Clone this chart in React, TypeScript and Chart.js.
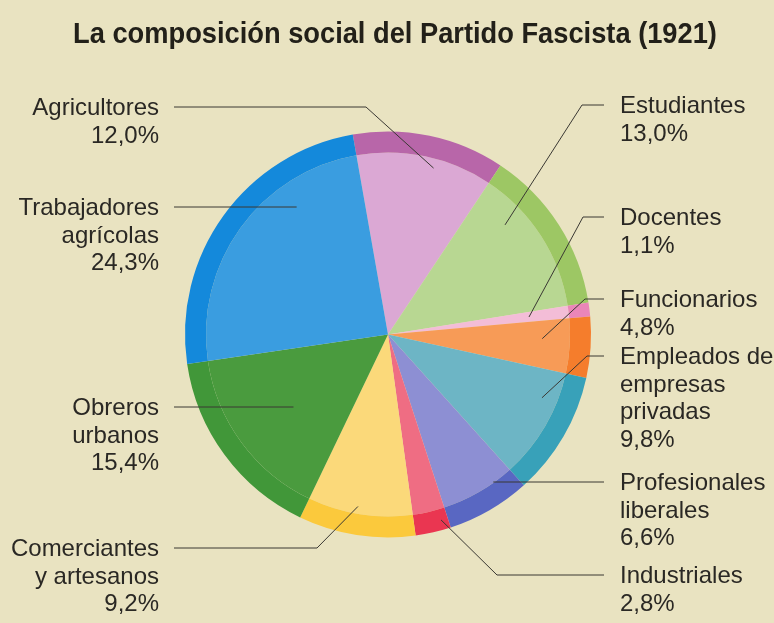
import React, { useEffect, useRef } from "react";
import { Chart, registerables } from "chart.js";

Chart.register(...registerables);

const title = "La composición social del Partido Fascista (1921)";

const categories = [
  "Agricultores",
  "Estudiantes",
  "Docentes",
  "Funcionarios",
  "Empleados de empresas privadas",
  "Profesionales liberales",
  "Industriales",
  "Comerciantes y artesanos",
  "Obreros urbanos",
  "Trabajadores agrícolas",
];

const shares = [12.0, 13.0, 1.1, 4.8, 9.8, 6.6, 2.8, 9.2, 15.4, 24.3];

const labelText = [
  ["Agricultores"],
  ["Estudiantes"],
  ["Docentes"],
  ["Funcionarios"],
  ["Empleados de", "empresas", "privadas"],
  ["Profesionales", "liberales"],
  ["Industriales"],
  ["Comerciantes", "y artesanos"],
  ["Obreros", "urbanos"],
  ["Trabajadores", "agrícolas"],
];

const rimColors = [
  "#b866a9",
  "#9dc764",
  "#ea86b8",
  "#f57d2c",
  "#38a1b9",
  "#5967c2",
  "#ea3651",
  "#fbc93c",
  "#419739",
  "#1489db",
];

const faceColors = [
  "#dba8d4",
  "#b8d792",
  "#f3bdd7",
  "#f79b57",
  "#6db5c5",
  "#8d8fd3",
  "#ef6d83",
  "#fbd97a",
  "#4a9b3e",
  "#3a9de0",
];

// layout of the annotations (side, leader y, elbow x, position within slice, radial fraction)
const labelLayout = [
  { side: "L", y: 107, elbowX: 366, t: 0.58, f: 0.85 },
  { side: "R", y: 105, elbowX: 582, t: 0.28, f: 0.79 },
  { side: "R", y: 217, elbowX: 583, t: 0.5, f: 0.7 },
  { side: "R", y: 299, elbowX: 585, t: 0.38, f: 0.76 },
  { side: "R", y: 356, elbowX: 587, t: 0.28, f: 0.82 },
  { side: "R", y: 482, elbowX: null, t: 0.27, f: 0 },
  { side: "R", y: 575, elbowX: 497, t: 0.2, f: 0.95 },
  { side: "L", y: 548, elbowX: 317, t: 0.53, f: 0.86 },
  { side: "L", y: 407, elbowX: null, t: 0.48, f: 0 },
  { side: "L", y: 207, elbowX: null, t: 0.71, f: 0 },
];

const fmtPct = (v: number) => v.toFixed(1).replace(".", ",") + "%";

const annotationPlugin = {
  id: "annotations",
  afterDraw(chart: any) {
    const ctx = chart.ctx as CanvasRenderingContext2D;
    const meta = chart.getDatasetMeta(0);
    ctx.save();

    // title
    ctx.fillStyle = "#222019";
    ctx.font = "bold 29px 'Liberation Sans', Arial, sans-serif";
    ctx.textAlign = "center";
    ctx.textBaseline = "alphabetic";
    ctx.save();
    ctx.translate(395, 43);
    ctx.scale(0.94, 1);
    ctx.fillText(title, 0, 0);
    ctx.restore();

    ctx.font = "24px 'Liberation Sans', Arial, sans-serif";
    ctx.strokeStyle = "#3a3833";
    ctx.lineWidth = 1;

    meta.data.forEach((arc: any, i: number) => {
      const lay = labelLayout[i];
      const p = arc.getProps(["x", "y", "startAngle", "endAngle", "outerRadius"], true);
      const a = p.startAngle + lay.t * (p.endAngle - p.startAngle);
      let ax: number, ay: number;
      if (lay.elbowX === null) {
        const r = (lay.y - p.y) / Math.sin(a);
        ax = p.x + r * Math.cos(a);
        ay = lay.y;
      } else {
        ax = p.x + lay.f * p.outerRadius * Math.cos(a);
        ay = p.y + lay.f * p.outerRadius * Math.sin(a);
      }
      const startX = lay.side === "L" ? 174 : 604;
      ctx.beginPath();
      ctx.moveTo(startX, lay.y);
      if (lay.elbowX !== null) ctx.lineTo(lay.elbowX, lay.y);
      ctx.lineTo(ax, ay);
      ctx.stroke();

      const lines = [...labelText[i], fmtPct(shares[i])];
      ctx.fillStyle = "#2a2824";
      ctx.textAlign = lay.side === "L" ? "right" : "left";
      const tx = lay.side === "L" ? 159 : 620;
      lines.forEach((ln, k) => {
        ctx.fillText(ln, tx, lay.y + 8 + k * 27.5);
      });
    });
    ctx.restore();
  },
};

export default function App() {
  const ref = useRef<HTMLCanvasElement | null>(null);

  useEffect(() => {
    if (!ref.current) return;
    const chart = new Chart(ref.current, {
      type: "pie",
      data: {
        labels: categories,
        datasets: [
          {
            data: shares,
            backgroundColor: rimColors,
            borderWidth: 0,
            weight: 21,
          },
          {
            data: shares,
            backgroundColor: faceColors,
            borderWidth: 0,
            weight: 182,
          },
        ],
      },
      options: {
        responsive: false,
        animation: false,
        rotation: -10,
        layout: { padding: { left: 185, right: 183, top: 131, bottom: 85 } },
        plugins: {
          legend: { display: false },
          tooltip: { enabled: false },
          title: { display: false },
        },
        events: [],
      },
      plugins: [annotationPlugin],
    });
    return () => chart.destroy();
  }, []);

  return (
    <div
      style={{
        position: "fixed",
        left: 0,
        top: 0,
        width: 774,
        height: 623,
        background: "#e9e3c1",
      }}
    >
      <canvas ref={ref} width={774} height={623} style={{ display: "block" }} />
    </div>
  );
}
